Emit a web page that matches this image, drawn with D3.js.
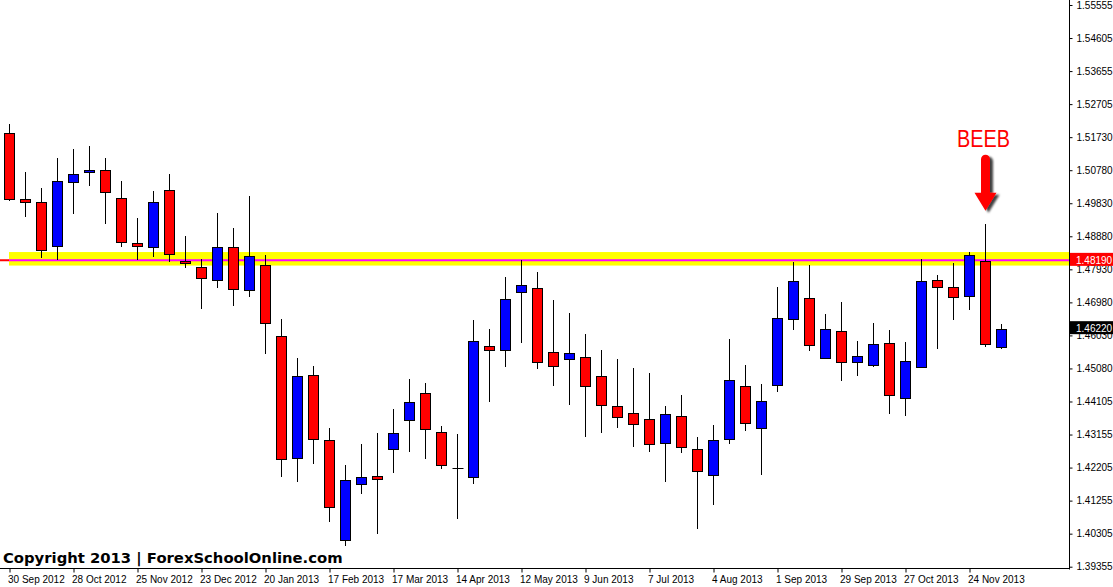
<!DOCTYPE html>
<html>
<head>
<meta charset="utf-8">
<script src="https://cdn.jsdelivr.net/npm/d3@7"></script>
<style>
html, body { margin: 0; padding: 0; background: #fff; }
svg { display: block; }
</style>
</head>
<body>
<svg id="chart" width="1113" height="587"></svg>
<script>
// ---- data (weekly GBP candles) ----
const opens  = [1.5185,1.4995,1.4986,1.4860,1.5044,1.5073,1.5079,1.4998,1.4868,1.4857,
                1.5021,1.4816,1.4799,1.4761,1.4857,1.4733,1.4805,1.4600,1.4248,1.4487,
                1.4300,1.4012,1.4173,1.4196,1.4274,1.4358,1.4436,1.4323,1.4219,1.4193,
                1.4571,1.4560,1.4727,1.4738,1.4554,1.4534,1.4539,1.4485,1.4398,1.4378,
                1.4361,1.4291,1.4369,1.4274,1.4199,1.4303,1.4456,1.4336,1.4459,1.4649,
                1.4710,1.4538,1.4614,1.4525,1.4516,1.4580,1.4421,1.4511,1.4761,1.4741,
                1.4715,1.4816,1.4568];
const highs  = [1.5212,1.5074,1.5027,1.5113,1.5139,1.5149,1.5113,1.5048,1.4941,1.5019,
                1.5068,1.4889,1.4823,1.4956,1.4912,1.5004,1.4834,1.4649,1.4536,1.4514,
                1.4335,1.4228,1.4288,1.4321,1.4389,1.4476,1.4464,1.4340,1.4317,1.4646,
                1.4620,1.4770,1.4819,1.4785,1.4704,1.4666,1.4606,1.4560,1.4534,1.4508,
                1.4493,1.4398,1.4430,1.4311,1.4343,1.4591,1.4516,1.4461,1.4741,1.4813,
                1.4805,1.4663,1.4698,1.4585,1.4637,1.4617,1.4583,1.4822,1.4776,1.4810,
                1.4842,1.4923,1.4635];
const lows   = [1.4991,1.4945,1.4827,1.4821,1.4954,1.5034,1.4925,1.4858,1.4821,1.4830,
                1.4815,1.4798,1.4680,1.4740,1.4688,1.4714,1.4550,1.4195,1.4181,1.4232,
                1.4065,1.3996,1.4146,1.4031,1.4206,1.4267,1.4247,1.4216,1.4074,1.4175,
                1.4411,1.4511,1.4581,1.4505,1.4457,1.4403,1.4310,1.4322,1.4336,1.4281,
                1.4267,1.4181,1.4264,1.4043,1.4114,1.4288,1.4328,1.4201,1.4440,1.4619,
                1.4558,1.4535,1.4472,1.4486,1.4511,1.4375,1.4371,1.4511,1.4564,1.4648,
                1.4677,1.4568,1.4564];
const closes = [1.4995,1.4986,1.4848,1.5047,1.5067,1.5079,1.5015,1.4871,1.4860,1.4986,
                1.4836,1.4812,1.4767,1.4857,1.4735,1.4831,1.4637,1.4245,1.4485,1.4303,
                1.4107,1.4185,1.4193,1.4187,1.4320,1.4410,1.4332,1.4228,1.4219,1.4585,
                1.4560,1.4707,1.4747,1.4525,1.4515,1.4551,1.4456,1.4401,1.4366,1.4346,
                1.4288,1.4375,1.4280,1.4211,1.4300,1.4473,1.4349,1.4412,1.4652,1.4759,
                1.4574,1.4620,1.4525,1.4542,1.4577,1.4430,1.4528,1.4759,1.4741,1.4712,
                1.4834,1.4577,1.4622];

const xTickLabels = ["30 Sep 2012","28 Oct 2012","25 Nov 2012","23 Dec 2012","20 Jan 2013",
                     "17 Feb 2013","17 Mar 2013","14 Apr 2013","12 May 2013","9 Jun 2013",
                     "7 Jul 2013","4 Aug 2013","1 Sep 2013","29 Sep 2013","27 Oct 2013","24 Nov 2013"];
const yTickLabels = ["1.55555","1.54605","1.53655","1.52705","1.51730","1.50780","1.49830","1.48880",
                     "1.47930","1.46980","1.46030","1.45080","1.44105","1.43155","1.42205","1.41255",
                     "1.40305","1.39355"];

const levelPrice = 1.48190;          // horizontal level
const zoneTop = 1.4843, zoneBottom = 1.4804;  // yellow zone
const annotationText = "BEEB";
const annotationIndex = 61;
const copyrightText = "Copyright 2013 | ForexSchoolOnline.com";

// ---- layout ----
const svg = d3.select("#chart");
const plotRight = 1069.5, plotBottom = 568.5;
const n = opens.length;

const x = d3.scaleLinear().domain([0, n - 1]).range([9.5, 9.5 + 16 * (n - 1)]);
const y = d3.scaleLinear().domain([1.39355, 1.55555]).range([566.7, 5]);
const crisp = v => Math.round(v) + 0.5;

const defs = svg.append("defs");
const f = defs.append("filter").attr("id","shadow").attr("x","-50%").attr("y","-50%").attr("width","200%").attr("height","200%");
f.append("feDropShadow").attr("dx",3).attr("dy",2).attr("stdDeviation",1.2)
  .attr("flood-color","#000").attr("flood-opacity",0.75);

// level line (red) underneath
svg.append("line")
  .attr("x1", 0).attr("x2", plotRight)
  .attr("y1", y(levelPrice)).attr("y2", y(levelPrice))
  .attr("stroke", "#ff0000").attr("stroke-width", 2);

// yellow zone
svg.append("rect")
  .attr("x", x(0) - 0.5).attr("width", plotRight - x(0) + 0.5)
  .attr("y", y(zoneTop)).attr("height", y(zoneBottom) - y(zoneTop))
  .attr("fill", "#ffff00");

// magenta line over zone
svg.append("line")
  .attr("x1", x(0) - 0.5).attr("x2", plotRight)
  .attr("y1", y(levelPrice)).attr("y2", y(levelPrice))
  .attr("stroke", "#ff00ff").attr("stroke-width", 2);

// candles
const candles = svg.append("g");
d3.range(n).forEach(i => {
  const cx = x(i);
  const g = candles.append("g");
  g.append("line")
    .attr("x1", cx).attr("x2", cx)
    .attr("y1", Math.round(y(highs[i]))).attr("y2", Math.round(y(lows[i])))
    .attr("stroke", "#000").attr("stroke-width", 1);
  const yo = y(opens[i]), yc = y(closes[i]);
  const top = crisp(Math.min(yo, yc)), bot = crisp(Math.max(yo, yc));
  if (bot - top < 1) {
    g.append("line")
      .attr("x1", cx - 5).attr("x2", cx + 6)
      .attr("y1", top).attr("y2", top)
      .attr("stroke", "#000").attr("stroke-width", 1);
  } else {
    g.append("rect")
      .attr("x", cx - 5).attr("width", 10)
      .attr("y", top).attr("height", bot - top)
      .attr("fill", closes[i] > opens[i] ? "#0000ff" : "#ff0000")
      .attr("stroke", "#000").attr("stroke-width", 1);
  }
});

// axes lines
svg.append("line").attr("x1", plotRight).attr("x2", plotRight).attr("y1", 0).attr("y2", plotBottom + 1)
  .attr("stroke", "#000");
svg.append("line").attr("x1", 0).attr("x2", plotRight).attr("y1", plotBottom).attr("y2", plotBottom)
  .attr("stroke", "#000");

// y axis
const yTickVals = d3.range(yTickLabels.length).map(k => 1.55555 - k * (1.55555 - 1.39355) / (yTickLabels.length - 1));
const yAxis = d3.axisRight(y).tickValues(yTickVals).tickSize(3).tickPadding(4)
  .tickFormat((d, i) => yTickLabels[i]);
const yg = svg.append("g").attr("transform", `translate(${plotRight},0)`).call(yAxis);
yg.select(".domain").remove();
yg.selectAll(".tick line").attr("stroke", "#000");
yg.selectAll("text").attr("font-family", "'Liberation Sans', Arial, sans-serif")
  .attr("font-size", 10).attr("fill", "#000");

// x axis
const xAxis = d3.axisBottom(x).tickValues(d3.range(0, xTickLabels.length * 4, 4)).tickSize(4)
  .tickFormat((d, i) => xTickLabels[i]);
const xg = svg.append("g").attr("transform", `translate(0,${plotBottom})`).call(xAxis);
xg.select(".domain").remove();
xg.selectAll(".tick line").attr("stroke", "#000");
xg.selectAll("text").attr("font-family", "'Liberation Sans', Arial, sans-serif")
  .attr("font-size", 10).attr("fill", "#000")
  .attr("text-anchor", "start").attr("x", -2).attr("y", 14).attr("dy", 0);

// price label boxes
function priceBox(price, color) {
  const yy = y(price);
  svg.append("rect").attr("x", plotRight + 0.5).attr("y", yy - 7.5).attr("width", 1113 - plotRight).attr("height", 13)
    .attr("fill", color);
  svg.append("text").attr("x", plotRight + 6.5).attr("y", yy + 3.5)
    .attr("font-family", "'Liberation Sans', Arial, sans-serif").attr("font-size", 10)
    .attr("fill", "#fff").text(d3.format(".5f")(price));
}
priceBox(levelPrice, "#ff0000");
priceBox(closes[n - 1], "#000000");

// annotation arrow + text
const ax = x(annotationIndex);
const tipY = y(highs[annotationIndex]) - 13.6;
const shaftTop = tipY - 56, headBase = tipY - 18;
svg.append("path")
  .attr("d", `M${ax-4.5},${shaftTop+4.5} A4.5,4.5 0 0 1 ${ax+4.5},${shaftTop+4.5} L${ax+4.5},${headBase} L${ax+11},${headBase} L${ax},${tipY} L${ax-11},${headBase} L${ax-4.5},${headBase} Z`)
  .attr("fill", "#ff0000").attr("filter", "url(#shadow)");
svg.append("text").attr("x", ax - 2).attr("y", tipY - 64)
  .attr("text-anchor", "middle")
  .attr("font-family", "'Liberation Sans', Arial, sans-serif").attr("font-size", 23)
  .attr("textLength", 53).attr("lengthAdjust", "spacingAndGlyphs")
  .attr("fill", "#ff0000").text(annotationText);

// copyright
svg.append("text").attr("x", 3).attr("y", 563)
  .attr("font-family", "'DejaVu Sans', Verdana, sans-serif").attr("font-weight", "bold")
  .attr("font-size", 14.8).attr("fill", "#000").text(copyrightText);
</script>
</body>
</html>
